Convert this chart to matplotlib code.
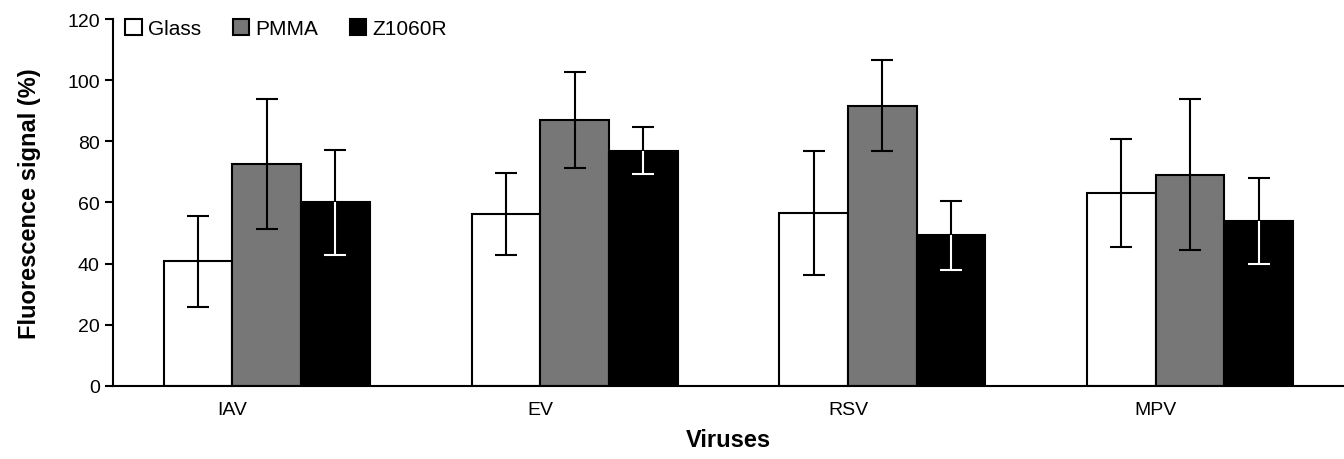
import matplotlib.pyplot as plt
import numpy as np

plt.rcParams['font.family'] = ['Liberation Sans', 'DejaVu Sans']

viruses = ['IAV', 'EV', 'RSV', 'MPV']
glass = [40.7, 56.1, 56.4, 63.0]
glass_err = [15.0, 13.4, 20.3, 17.6]
pmma = [72.6, 86.9, 91.7, 69.1]
pmma_err = [21.2, 15.7, 14.9, 24.8]
z1060r = [60.0, 76.9, 49.2, 53.8]
z1060r_err = [17.3, 7.7, 11.2, 14.1]

fig = plt.figure(figsize=(13.44, 4.6), dpi=100)
ax = fig.add_axes([0.084, 0.159, 0.916, 0.7975])

x = np.arange(len(viruses))
w = 0.223
series = [(glass, glass_err, 'white', 'Glass'),
          (pmma, pmma_err, '#777777', 'PMMA'),
          (z1060r, z1060r_err, 'black', 'Z1060R')]

for i, (vals, errs, color, label) in enumerate(series):
    pos = x + (i - 1) * w
    ax.bar(pos, vals, w, color=color, edgecolor='black', linewidth=1.5,
           label=label, zorder=2)
    ax.errorbar(pos, vals, yerr=errs, fmt='none', ecolor='black',
                elinewidth=1.5, capsize=8, capthick=1.5, zorder=3)
    if color == 'black':
        # inside the black bar the lower half of the error bar is white
        lows = np.array(vals) - np.array(errs)
        ax.vlines(pos, lows, vals, color='white', linewidth=1.5, zorder=4)
        ax.hlines(lows, pos - 0.036, pos + 0.036, color='white',
                  linewidth=1.5, zorder=4)

ax.set_xlim(-0.5, 3.5)
ax.set_ylim(0, 120)
ax.set_yticks(range(0, 121, 20))
ax.set_xticks(x - w / 2)
ax.set_xticklabels(viruses)
ax.tick_params(axis='x', length=0, labelsize=14, pad=11)
ax.tick_params(axis='y', length=6, width=1.5, labelsize=14, direction='out')
for s in ['top', 'right']:
    ax.spines[s].set_visible(False)
ax.spines['left'].set_linewidth(1.5)
ax.spines['bottom'].set_linewidth(1.5)

ax.set_xlabel('Viruses', fontsize=17, fontweight='bold', labelpad=7)
ax.set_ylabel('Fluorescence signal (%)', fontsize=17, fontweight='bold', labelpad=19)

ax.legend(loc='upper left', ncol=3, frameon=False, fontsize=15,
          handlelength=0.8, handleheight=0.8, handletextpad=0.3,
          columnspacing=1.5, bbox_to_anchor=(0.0, 1.035), borderaxespad=0.2)

fig.savefig('out.png', dpi=100)
